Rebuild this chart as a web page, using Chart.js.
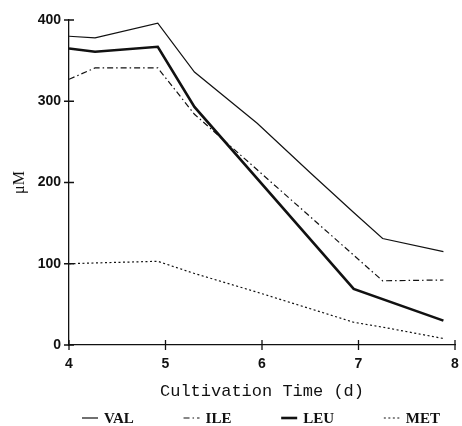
<!DOCTYPE html>
<html>
<head>
<meta charset="utf-8" />
<script src="https://cdn.jsdelivr.net/npm/chart.js"></script>
<style>
  html, body { margin: 0; padding: 0; background: #fff; }
  #wrap { width: 462px; height: 426px; }
</style>
</head>
<body>
<div id="wrap"><canvas id="c" width="462" height="426"></canvas></div>
<script>
// sampling days (null = no reading for that series)
const days = [4.0, 4.27, 4.92, 5.3, 5.95, 6.5, 6.95, 7.25, 7.88];
const val = [380, 378, 396, 336, 273, 212, 163, 131, 115];
const ile = [327, 341, 341, 284, null, null, null, 79, 80];
const leu = [365, 361, 367, 293, null, null, 69, null, 30];
const met = [100, 101, 103, 88, 65, null, 28, 22, 8];
const xTicks = [4, 5, 6, 7, 8];
const yTicks = [0, 100, 200, 300, 400];

const toPts = (arr) => days.map((d, i) => ({ x: d, y: arr[i] }));

// little tick marks that cross the axis line, like the original plot
const crossTicks = {
  id: "crossTicks",
  afterDraw(chart) {
    const { ctx, scales: { x, y } } = chart;
    ctx.save();
    ctx.strokeStyle = "#111";
    ctx.lineWidth = 1.3;
    ctx.beginPath();
    xTicks.forEach((t) => {
      const px = x.getPixelForValue(t);
      ctx.moveTo(px, y.bottom - 5);
      ctx.lineTo(px, y.bottom + 5);
    });
    yTicks.forEach((t) => {
      const py = y.getPixelForValue(t);
      ctx.moveTo(x.left - 5, py);
      ctx.lineTo(x.left + 5, py);
    });
    ctx.stroke();
    ctx.restore();
  },
};

// one-row legend spread under the plot, samples keep each line's dash
const lineLegend = {
  id: "lineLegend",
  afterDraw(chart) {
    const ctx = chart.ctx;
    const sample = 16, gapText = 6, x0 = 82, x1 = 440, yMid = 418;
    ctx.save();
    ctx.font = "bold 15px 'Liberation Serif'";
    ctx.textBaseline = "middle";
    ctx.fillStyle = "#111";
    const sets = chart.data.datasets;
    const widths = sets.map((d) => sample + gapText + ctx.measureText(d.label).width);
    const gap = (x1 - x0 - widths.reduce((a, b) => a + b, 0)) / (sets.length - 1);
    let x = x0;
    sets.forEach((d, i) => {
      ctx.strokeStyle = "#111";
      ctx.lineWidth = d.borderWidth;
      ctx.setLineDash(d.borderDash || []);
      ctx.beginPath();
      ctx.moveTo(x, yMid);
      ctx.lineTo(x + sample, yMid);
      ctx.stroke();
      ctx.setLineDash([]);
      ctx.fillText(d.label, x + sample + gapText, yMid + 1);
      x += widths[i] + gap;
    });
    ctx.restore();
  },
};

const line = (label, data, width, dash) => ({
  label,
  data: toPts(data),
  borderColor: "#111",
  backgroundColor: "#111",
  borderWidth: width,
  borderDash: dash,
  pointRadius: 0,
  tension: 0,
  spanGaps: true,
});

new Chart(document.getElementById("c"), {
  type: "line",
  data: {
    datasets: [
      line("VAL", val, 1.2, []),
      line("ILE", ile, 1.2, [6, 3, 1.5, 3]),
      line("LEU", leu, 2.6, []),
      line("MET", met, 1.2, [2, 2.5]),
    ],
  },
  options: {
    responsive: false,
    animation: false,
    layout: { padding: { left: 0, right: 7, top: 20, bottom: 24 } },
    scales: {
      x: {
        type: "linear",
        min: 4,
        max: 8,
        afterBuildTicks: (s) => { s.ticks = xTicks.map((v) => ({ value: v })); },
        afterFit: (s) => { s.height = 57; },
        grid: { display: false },
        border: { color: "#111", width: 1.3 },
        ticks: {
          color: "#111",
          padding: 3,
          font: { family: "Liberation Sans", size: 14, weight: "bold" },
        },
        title: {
          display: true,
          text: "Cultivation Time (d)",
          color: "#111",
          padding: { top: 0, bottom: 0 },
          font: { family: "Liberation Mono", size: 17 },
        },
      },
      y: {
        min: 0,
        max: 400,
        afterBuildTicks: (s) => { s.ticks = yTicks.map((v) => ({ value: v })); },
        afterFit: (s) => { s.width = 69; },
        grid: { display: false },
        border: { color: "#111", width: 1.3 },
        ticks: {
          color: "#111",
          padding: 0,
          font: { family: "Liberation Sans", size: 14, weight: "bold" },
        },
        title: {
          display: true,
          text: "μM",
          color: "#111",
          padding: { top: 10, bottom: 0 },
          font: { family: "Liberation Serif", size: 16 },
        },
      },
    },
    plugins: {
      legend: { display: false },
      tooltip: { enabled: false },
    },
  },
  plugins: [crossTicks, lineLegend],
});
</script>
</body>
</html>
